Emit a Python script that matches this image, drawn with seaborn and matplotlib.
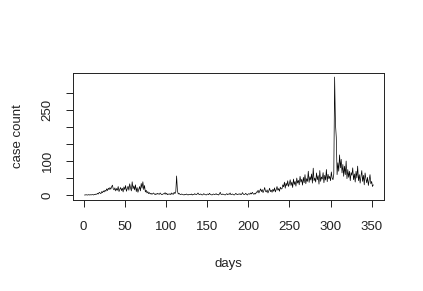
import seaborn as sns
import matplotlib.pyplot as plt
import numpy as np
import pandas as pd

# daily case counts
seg1 = [0, 0, 1, 0, 0, 1, 0, 1, 0, 1, 1, 0, 2, 1, 3]
seg2 = [2, 5, 3, 8, 6, 4, 10, 7, 12, 9, 14, 11, 18, 13, 20, 16, 22, 17, 24, 29,
        18, 15, 21, 12, 19, 14, 25, 10, 17, 22]
seg3 = [13, 20, 9, 24, 16, 28, 11, 19, 26, 14, 33, 21, 12, 39, 18, 27, 15, 30, 10, 22,
        8, 17, 25, 12, 34, 20, 39, 16, 28, 9, 14, 6, 10, 4, 7]
seg4 = [3, 5, 2, 4, 6, 3, 1, 4, 2, 5, 3, 2, 6, 3, 1, 2, 4, 3, 7, 2,
        5, 1, 3, 2, 4, 1, 6, 3, 2, 8, 4, 10, 56]
seg5 = [12, 3, 5, 2, 1, 3, 2, 1, 0, 2, 1, 3, 1, 0, 2, 1, 1, 3, 0, 2,
        1, 4, 2, 1, 3, 6, 2]
seg6 = [1, 3, 2, 0, 1, 4, 2, 1, 0, 2, 3, 1, 5, 2, 1, 0, 2, 3, 1, 2,
        4, 1, 2, 0, 3, 8, 2, 1, 3, 2, 1, 0, 2, 4, 1, 3, 2, 6, 1, 2,
        3, 1, 0, 2, 5, 2, 1, 3, 2, 4, 1, 2, 7, 3, 1, 2, 5, 2, 0, 3,
        4, 2, 6, 3, 8, 4, 2, 5, 3, 9]
seg7 = [8, 14, 6, 12, 18, 10, 16, 7, 13, 22, 11, 9, 15, 6, 12, 20, 10, 14, 8, 17,
        11, 21, 9, 16, 25, 14, 19, 11, 23, 18]
seg8 = [18, 30, 24, 38, 20, 35, 27, 42, 25, 33, 45, 28, 38, 22, 47, 31, 40, 26, 50, 35,
        43, 30, 55, 38, 46, 29, 52, 36, 60, 33, 48, 40, 70, 37, 54, 44, 62, 35, 79, 42,
        50, 38, 65, 45, 57, 32, 72, 40, 53, 47, 66, 36, 58, 44, 75, 39, 61, 48, 55, 42,
        68, 50, 45, 62, 347]
seg9 = [210, 170, 60, 95, 70, 118, 80, 105, 65, 90, 55, 85, 60, 100, 48, 75, 52, 70, 42, 66,
        58, 80, 45, 62, 38, 70, 50, 85, 42, 60, 35, 55, 72, 40, 58, 30, 65, 48, 36, 52,
        28, 45, 60, 33, 40, 25, 30]

cases = seg1 + seg2 + seg3 + seg4 + seg5 + seg6 + seg7 + seg8 + seg9
days = list(range(1, len(cases) + 1))

xticks = [0, 50, 100, 150, 200, 250, 300, 350]
yticks = [0, 50, 100, 150, 200, 250, 300]
ylabels = ['0', '', '100', '', '', '250', '']

df = pd.DataFrame({'days': days, 'cases': cases})

sns.set_style('ticks')
plt.rcParams['font.family'] = ['Liberation Sans', 'DejaVu Sans']

fig = plt.figure(figsize=(4.23, 2.91), dpi=100)
ax = fig.add_axes([73 / 423, 1 - 200 / 291, (384 - 73) / 423, (200 - 73) / 291])
sns.lineplot(data=df, x='days', y='cases', color='black', linewidth=0.5, ax=ax)

ax.set_xlim(-12.9, 365)
ax.set_ylim(-14.7, 359)
ax.set_xticks(xticks)
ax.set_yticks(yticks)
ax.set_yticklabels(ylabels, rotation=90, va='center')
ax.tick_params(length=5, width=0.7, colors='#222222', labelsize=9.5)
ax.tick_params(axis='x', pad=10)
ax.tick_params(axis='y', pad=9)
for s in ax.spines.values():
    s.set_linewidth(0.7)
    s.set_color('#222222')
ax.set_xlabel('days', fontsize=9.5, labelpad=18, color='#222222')
ax.set_ylabel('case count', fontsize=9.5, labelpad=13, color='#222222')

fig.savefig('out.png', dpi=100)
